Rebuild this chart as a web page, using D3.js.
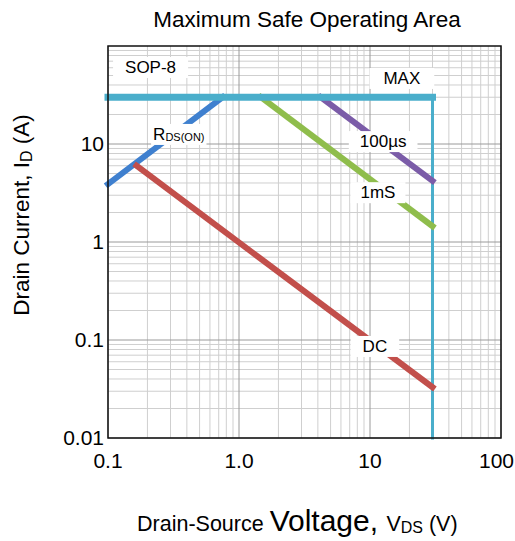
<!DOCTYPE html>
<html>
<head>
<meta charset="utf-8">
<script src="https://cdn.jsdelivr.net/npm/d3@7"></script>
<style>
  body { margin: 0; background: #fff; }
  text { font-family: "Liberation Sans", Arial, Helvetica, sans-serif; }
</style>
</head>
<body>
<svg id="soa_chart"></svg>
<script>
// tick values / labels
const xTicks = [0.1, 1, 10, 100];
const xTickLabels = ["0.1", "1.0", "10", "100"];
const yTicks = [0.01, 0.1, 1, 10];
const yTickLabels = ["0.01", "0.1", "1", "10"];

// limit lines, [V, A]
const maxCurrent = [[0.1, 30], [30, 30]];
const maxVoltage = [[30, 30], [30, 0.01]];
const rdsOn = [[0.1, 3.9], [0.75, 30]];
const dcLine = [[0.165, 6], [30, 0.033]];
const ms1Line = [[1.47, 30], [30, 1.45]];
const us100Line = [[4.2, 30], [30, 4.2]];

function makeSoaChart() {
    let w = 515;
    let h = 541;
    let m = { left: 108, right: 14, top: 46, bottom: 103 };

    let svg = d3.select('#soa_chart')
        .attr('width', w)
        .attr('height', h);

    let xScale = d3.scaleLog()
        .domain([0.1, 100])
        .range([m.left, w - m.right]);

    let yScale = d3.scaleLog()
        .domain([0.01, 100])
        .range([h - m.bottom, m.top]);

    // grid, minor first then decades
    let minorX = [], minorY = [];
    [0.1, 1, 10].forEach(d => { for (let k = 2; k <= 9; k++) minorX.push(d * k); });
    [0.01, 0.1, 1, 10].forEach(d => { for (let k = 2; k <= 9; k++) minorY.push(d * k); });

    let grid = svg.append('g');
    grid.selectAll('.mx').data(minorX).enter().append('line')
        .attr('x1', d => xScale(d)).attr('x2', d => xScale(d))
        .attr('y1', m.top).attr('y2', h - m.bottom)
        .attr('stroke', '#cfcfcf').attr('stroke-width', 1);
    grid.selectAll('.my').data(minorY).enter().append('line')
        .attr('y1', d => yScale(d)).attr('y2', d => yScale(d))
        .attr('x1', m.left).attr('x2', w - m.right)
        .attr('stroke', '#cfcfcf').attr('stroke-width', 1);
    grid.selectAll('.Mx').data(xTicks).enter().append('line')
        .attr('x1', d => xScale(d)).attr('x2', d => xScale(d))
        .attr('y1', m.top).attr('y2', h - m.bottom)
        .attr('stroke', '#9a9a9a').attr('stroke-width', 1);
    grid.selectAll('.My').data(yTicks).enter().append('line')
        .attr('y1', d => yScale(d)).attr('y2', d => yScale(d))
        .attr('x1', m.left).attr('x2', w - m.right)
        .attr('stroke', '#9a9a9a').attr('stroke-width', 1);

    let line = d3.line()
        .x(d => xScale(d[0]))
        .y(d => yScale(d[1]));

    let series = [
        { data: maxVoltage, color: '#4aaecb', width: 3 },
        { data: rdsOn, color: '#3f80cf', width: 6 },
        { data: dcLine, color: '#c24f4b', width: 6 },
        { data: ms1Line, color: '#8fbd4c', width: 6 },
        { data: us100Line, color: '#7b5ca8', width: 6 },
        { data: maxCurrent, color: '#4aaecb', width: 7 }
    ];

    svg.selectAll('.limit')
        .data(series)
        .enter()
        .append('path')
        .attr('class', 'limit')
        .attr('d', d => line(d.data))
        .attr('fill', 'none')
        .attr('stroke', d => d.color)
        .attr('stroke-width', d => d.width)
        .attr('stroke-linecap', 'square');

    // frame
    svg.append('rect')
        .attr('x', m.left).attr('y', m.top)
        .attr('width', w - m.left - m.right)
        .attr('height', h - m.top - m.bottom)
        .attr('fill', 'none')
        .attr('stroke', '#111')
        .attr('stroke-width', 1.5);

    // in-plot labels with white boxes
    let labels = [
        { text: 'SOP-8', x: 0.135, y: 53, anchor: 'start', pad: 12 },
        { text: 'MAX', x: 17.5, y: 41, anchor: 'middle', pad: 14 },
        { text: 'R', sub: 'DS(ON)', x: 0.221, y: 11, anchor: 'start', pad: 2 },
        { text: '100µs', x: 12.6, y: 9.3, anchor: 'middle', pad: 11 },
        { text: '1mS', x: 11.5, y: 2.8, anchor: 'middle', pad: 10 },
        { text: 'DC', x: 10.9, y: 0.0755, anchor: 'middle', pad: 12 }
    ];

    labels.forEach(l => {
        let g = svg.append('g');
        let rect = g.append('rect').attr('fill', '#fff');
        let t = g.append('text')
            .attr('x', xScale(l.x))
            .attr('y', yScale(l.y))
            .attr('text-anchor', l.anchor)
            .attr('font-size', 17)
            .text(l.text);
        if (l.sub) {
            t.append('tspan').attr('font-size', 11).attr('dy', 1).text(l.sub);
        }
        let b = t.node().getBBox();
        rect.attr('x', b.x - l.pad).attr('y', b.y - 1)
            .attr('width', b.width + 2 * l.pad).attr('height', b.height + 2);
    });

    // tick labels
    svg.selectAll('.xt').data(xTicks).enter().append('text')
        .attr('x', (d, i) => i === xTicks.length - 1 ? w - 1 : xScale(d))
        .attr('y', h - m.bottom + 30)
        .attr('text-anchor', (d, i) => i === xTicks.length - 1 ? 'end' : 'middle')
        .attr('font-size', 21)
        .text((d, i) => xTickLabels[i]);

    svg.selectAll('.yt').data(yTicks).enter().append('text')
        .attr('x', m.left - 4)
        .attr('y', d => yScale(d) + 7)
        .attr('text-anchor', 'end')
        .attr('font-size', 21)
        .text((d, i) => yTickLabels[i]);

    // title
    svg.append('text')
        .attr('x', 307)
        .attr('y', 27)
        .attr('text-anchor', 'middle')
        .attr('font-size', 22.5)
        .text('Maximum Safe Operating Area');

    // x axis title
    let xt = svg.append('text')
        .attr('x', 137)
        .attr('y', 531)
        .attr('font-size', 21.5);
    xt.append('tspan').text('Drain-Source ');
    xt.append('tspan').attr('font-size', 30).text('Voltage, ');
    xt.append('tspan').text('V');
    xt.append('tspan').attr('font-size', 16).attr('dy', 2).text('DS');
    xt.append('tspan').attr('dy', -2).text(' (V)');

    // y axis title
    let yt = svg.append('text')
        .attr('transform', 'translate(29, 215) rotate(-90)')
        .attr('text-anchor', 'middle')
        .attr('font-size', 22.5);
    yt.append('tspan').text('Drain Current, I');
    yt.append('tspan').attr('font-size', 16).attr('dy', 3).text('D');
    yt.append('tspan').attr('dy', -3).text(' (A)');
}

window.onload = function() {
    makeSoaChart();
}
</script>
</body>
</html>
